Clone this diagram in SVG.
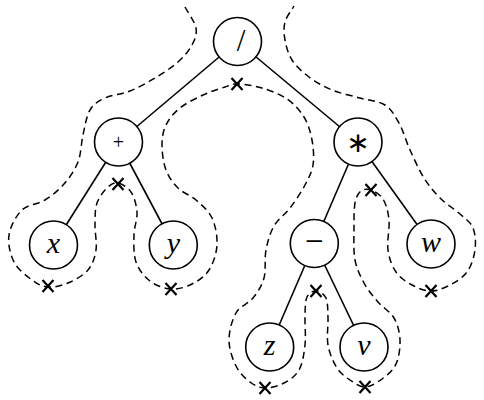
<svg xmlns="http://www.w3.org/2000/svg" width="484" height="400" viewBox="0 0 484 400">
<style>
.edge{stroke:#000;stroke-width:1.6;fill:none}
.node circle{fill:#fff;stroke:#000;stroke-width:1.6}
.var{font-family:"Liberation Serif",serif;font-style:italic;font-size:30px;text-anchor:middle;fill:#000}
.op{font-family:"Liberation Serif",serif;text-anchor:middle;fill:#000}
.tour{fill:none;stroke:#000;stroke-width:1.5;stroke-dasharray:7 4.5}
.mark{stroke:#000;stroke-width:2.2;fill:none}
</style>
<defs>
<g id="x-mark"><path class="mark" d="M-5.5,-6 L5.5,6 M-5.5,6 L5.5,-6"/></g>
</defs>
<g id="connectors">
<line class="edge" x1="237.5" y1="41.5" x2="118.5" y2="142"/>
<line class="edge" x1="237.5" y1="41.5" x2="358" y2="142"/>
<line class="edge" x1="118.5" y1="142" x2="53.5" y2="245"/>
<line class="edge" x1="118.5" y1="142" x2="173.3" y2="245"/>
<line class="edge" x1="358" y1="142" x2="314.3" y2="243.5"/>
<line class="edge" x1="358" y1="142" x2="431" y2="244"/>
<line class="edge" x1="314.3" y1="243.5" x2="269.7" y2="347"/>
<line class="edge" x1="314.3" y1="243.5" x2="364" y2="347"/>
</g>
<g id="tour">
<path class="tour" d="M185,7 C188.7,14 194.8,21.7 196,28 S195,39.3 192,45 S184.2,56.5 178,62 S163,73.2 155,78 S138.3,87.7 130,91 S111.7,94.8 105,98 S93.7,103.8 90,110 S85,126.3 83,135 S81.2,153.8 78,162 S69.5,177.7 64,184 S52,195.7 45,200 S28,204.2 22,210 S10.3,226.3 9,235 S10.2,254.5 14,262 S26.3,275.8 32,280 S42,286.5 48,287 S61.3,285.8 68,283 S83.3,275.5 88,270 S94.8,257.5 96,250 S94.8,232.8 95,225 S94.8,209.3 97,203 S104.5,190.3 108,187 S114.2,182.2 118,183 S127.8,187.2 131,192 S136.5,204.8 137,212 S134.2,226.7 134,235 S133.3,254.3 136,262 S144.2,276.5 150,281 S164,288.5 171,289 S185.7,287.2 192,284 S204.8,276.5 209,270 S216.5,253.7 217,245 S215.5,225.5 212,218 S201.7,205 196,200 S183,193 178,188 S168.7,177.2 166,170 S162,152.5 162,145 S163,131.2 166,125 S173.8,113 180,108 S195.5,98.5 203,95 S219.2,88.8 225,87 S231.8,83.8 238,84 S253.8,85.5 262,88 S280,94.2 287,99 S299.8,110.2 304,117 S310.5,132 312,140 S314.2,157.5 313,165 S308.8,177.8 305,185 S295.2,201.2 290,208 S278,219 274,226 S267.7,241.3 266,250 S266.2,270 264,278 S257.7,292.2 253,298 S240,306 236,313 S229,331.2 229,340 S232.5,359 236,366 S245.2,378.3 250,382 S259.3,387.8 265,388 S278.3,386 284,383 S295.5,376.3 299,370 S304,354.2 305,345 S304.7,323 305,315 S305.2,301 307,297 S312.8,290.8 316,291 S324,293.5 326,298 S327.7,310.2 328,318 S326.5,336.7 328,345 S333.3,362.2 337,368 S345.3,376.8 350,380 S359.7,387.2 365,387 S376.8,382.8 382,379 S393,370.5 396,364 S400.3,347.7 400,340 S397.7,324.3 394,318 S383,307.8 378,302 S367.8,290 364,283 S356.7,268.8 355,260 S354,239.5 354,230 S353.8,209.5 355,203 S358.3,193.2 361,191 S367.3,188.7 371,190 S380,194 383,199 S388.2,211.5 389,220 S386.8,241.3 388,250 S392,266.2 396,272 S406.2,281.8 412,285 S424.7,291 431,291 S444,288.2 450,285 S462.8,277.8 467,272 S474,257.3 475,250 S475.5,234 473,228 S465.5,219 460,214 S446,204 440,198 S429,186 424,178 S414.2,159.2 410,150 S403.2,130.5 399,123 S391.5,109.2 385,105 S368.8,100.5 360,98 S340.5,93.5 332,90 S315.7,82 309,77 S296,66.2 292,60 S286.2,46.3 285,40 S283.5,27.7 285,22 S291,11.3 294,6"/>
</g>
<g id="marks">
<use href="#x-mark" x="48" y="286"/>
<use href="#x-mark" x="118" y="184"/>
<use href="#x-mark" x="171" y="289"/>
<use href="#x-mark" x="237" y="84"/>
<use href="#x-mark" x="265" y="388"/>
<use href="#x-mark" x="316" y="291"/>
<use href="#x-mark" x="365" y="387"/>
<use href="#x-mark" x="371" y="190"/>
<use href="#x-mark" x="431" y="291"/>
</g>
<g id="node-div" class="node"><circle cx="237.5" cy="41.5" r="24"/><text class="op" x="241" y="51" font-size="31">/</text></g>
<g id="node-plus" class="node"><circle cx="118.5" cy="142" r="24"/><text class="op" x="118.5" y="148.5" font-size="20">+</text></g>
<g id="node-times" class="node"><circle cx="358" cy="142" r="24"/><text x="358" y="152" font-family="DejaVu Sans, sans-serif" font-size="28" text-anchor="middle">∗</text></g>
<g id="node-x" class="node"><circle cx="53.5" cy="245" r="24"/><text class="var" x="53.5" y="253">x</text></g>
<g id="node-y" class="node"><circle cx="173.3" cy="245" r="24"/><text class="var" x="173.3" y="253">y</text></g>
<g id="node-minus" class="node"><circle cx="314.3" cy="243.5" r="24"/><text class="op" x="314.3" y="251.5" font-size="33">−</text></g>
<g id="node-w" class="node"><circle cx="431" cy="244" r="24"/><text class="var" x="431" y="252">w</text></g>
<g id="node-z" class="node"><circle cx="269.7" cy="347" r="24"/><text class="var" x="269.7" y="355">z</text></g>
<g id="node-v" class="node"><circle cx="364" cy="347" r="24"/><text class="var" x="364" y="355">v</text></g>
</svg>
